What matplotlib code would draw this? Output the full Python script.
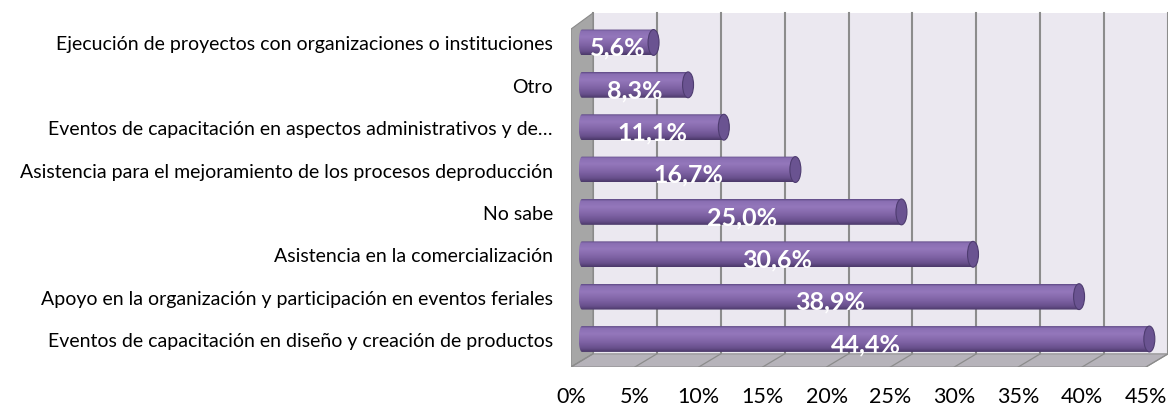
import numpy as np
import matplotlib
matplotlib.use("Agg")
import matplotlib.pyplot as plt
from matplotlib.patches import Polygon, Ellipse
from matplotlib.colors import LinearSegmentedColormap

plt.rcParams['font.family'] = ['Lato', 'DejaVu Sans']

# categories from bottom to top
categorias = [
    "Eventos de capacitación en diseño y creación de productos",
    "Apoyo en la organización y participación en eventos feriales",
    "Asistencia en la comercialización",
    "No sabe",
    "Asistencia para el mejoramiento de los procesos deproducción",
    "Eventos de capacitación en aspectos administrativos y de…",
    "Otro",
    "Ejecución de proyectos con organizaciones o instituciones",
]
porcentajes = [44.4, 38.9, 30.6, 25.0, 16.7, 11.1, 8.3, 5.6]
ticks = [0, 5, 10, 15, 20, 25, 30, 35, 40, 45]

# 3D box geometry (depth offsets in data units)
DX, DY = 1.72, 0.31
XMAX = ticks[-1]
BH = 0.61          # bar thickness
EW = 0.43          # half-width of the end cap ellipse
EWL = 0.25         # half-width of the rounded left end

fig = plt.figure(figsize=(11.68, 4.10), dpi=100)
ax = fig.add_axes([571 / 1168, 42 / 410, 597 / 1168, 368 / 410])
ylo, yhi = -0.661, 8.026
y_front = ylo
y_back = ylo + DY
y_top = 7.696

# back wall
ax.add_patch(Polygon([(DX, y_back), (XMAX + DX, y_back), (XMAX + DX, y_top), (DX, y_top)],
                     closed=True, facecolor='#ebe8f0', edgecolor='none', zorder=0))
# left side wall
ax.add_patch(Polygon([(0, y_front), (DX, y_back), (DX, y_top), (0, y_top - 0.38)],
                     closed=True, facecolor='#a6a6a6', edgecolor='#8a8a8a', lw=0.8, zorder=1))
# floor
ax.add_patch(Polygon([(0, y_front), (XMAX, y_front), (XMAX + DX, y_back), (DX, y_back)],
                     closed=True, facecolor='#b6b3ba', edgecolor='#8f8f8f', lw=0.8, zorder=1))

for t in ticks:
    ax.plot([t + DX, t + DX], [y_back, y_top], color='#8c8c8c', lw=1.5, zorder=0.5)
    ax.plot([t, t + DX], [y_front, y_back], color='#8c8c8c', lw=0.9, zorder=1.5)

cyl = LinearSegmentedColormap.from_list('cyl', [
    (0.0, '#5d4883'), (0.08, '#8a6fb3'), (0.3, '#9477bb'),
    (0.6, '#8064a6'), (0.85, '#68508c'), (1.0, '#4a3868')])
grad = np.linspace(0, 1, 128).reshape(-1, 1)

for i, v in enumerate(porcentajes):
    x0 = DX / 2
    x1 = x0 + v
    # body outline: rounded left end, straight right end under the cap
    th = np.linspace(np.pi / 2, 3 * np.pi / 2, 30)
    left = np.column_stack([x0 + EWL * np.cos(th), i + BH / 2 * np.sin(th)])
    outline = np.vstack([[(x1, i + BH / 2)], left, [(x1, i - BH / 2)]])
    body = Polygon(outline, closed=True, facecolor='none', edgecolor='none')
    ax.add_patch(body)
    im = ax.imshow(grad, cmap=cyl, extent=(x0 - EWL, x1, i - BH / 2, i + BH / 2),
                   origin='upper', aspect='auto', interpolation='bilinear', zorder=3)
    im.set_clip_path(body)
    ax.add_patch(Ellipse((x1, i), 2 * EW, BH, facecolor='#6a5391',
                         edgecolor='#4e3c70', lw=0.8, zorder=4))
    txt = f"{v:.1f}%".replace('.', ',')
    ax.text(x0 + v / 2, i - 0.11, txt, ha='center', va='center', color='white',
            fontsize=18, fontweight='bold', zorder=5)

ax.set_xlim(0, XMAX + DX)
ax.set_ylim(ylo, yhi)
ax.set_xticks(ticks, [f"{t}%" for t in ticks])
ax.set_yticks(range(len(categorias)), categorias)
ax.tick_params(axis='x', length=0, pad=14, labelsize=15.5)
ax.tick_params(axis='y', length=0, pad=13, labelsize=14)
for s in ax.spines.values():
    s.set_visible(False)
ax.patch.set_visible(False)

fig.savefig("out.png", dpi=100)
